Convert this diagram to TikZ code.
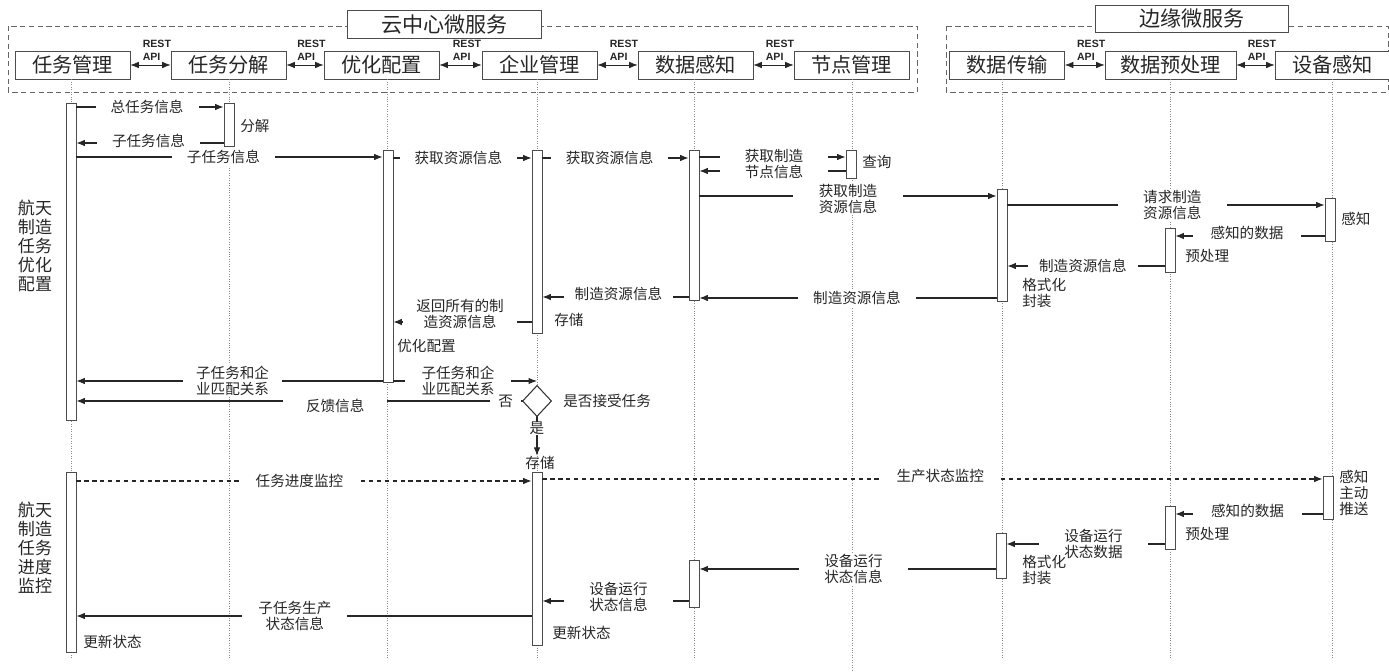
\documentclass[tikz,border=0pt]{standalone}
\usepackage{fontspec}
\setmainfont{Noto Sans CJK SC}
\newfontfamily\apifont{Liberation Sans}
\usetikzlibrary{arrows.meta, shapes.geometric, positioning}

\newcommand{\msgsize}{\fontsize{8.3}{8.9}\selectfont}

\begin{document}
\begin{tikzpicture}[
        x = 0.02cm, y = -0.02cm,
        >= {Latex[length = 1.7mm, width = 1.3mm]},
        every node/.style = {text = black!85},
        service/.style = {draw = black!70, fill = white, minimum width = 2.3cm, minimum height = 0.56cm, inner sep = 0pt, font = \fontsize{11.5}{12}\selectfont},
        caption/.style = {draw = black!70, fill = white, minimum width = 3.87cm, minimum height = 0.55cm, inner sep = 0pt, font = \fontsize{12}{13}\selectfont},
        group/.style = {draw = black!60, dash pattern = on 3pt off 2pt},
        api/.style = {font = \apifont\bfseries\fontsize{6}{7.4}\selectfont, align = left, inner sep = 0pt, anchor = south west, xshift = -0.16cm, yshift = 0.08cm},
        lifeline/.style = {draw = black!45, densely dotted, line width = 0.4pt},
        bar/.style = {draw = black!70, fill = white, minimum width = 0.2cm, inner sep = 0pt, anchor = north},
        msg/.style = {draw = black!85, line width = 0.6pt, ->},
        ask/.style = {msg, dash pattern = on 2.5pt off 2pt},
        lbl/.style = {fill = white, inner xsep = 0.3cm, inner ysep = 1pt, font = \msgsize, align = center},
        note/.style = {font = \msgsize, align = left, anchor = west, inner sep = 0pt},
        phase/.style = {font = \fontsize{9.7}{10.8}\selectfont, align = center}
    ]
    \useasboundingbox (0,0) rectangle (1389,672);

    % micro service groups
    \draw[group] (8,26) rectangle (917,92);
    \draw[group] (946,26) rectangle (1388,92);
    \node[caption] (cloudtitle) at (444.5,24.5) {云中心微服务};
    \node[caption] (edgetitle) at (1192,19) {边缘微服务};

    \node[service] (s1) at (72.5,65) {任务管理};
    \node[service] (s2) at (228.5,65) {任务分解};
    \node[service] (s3) at (381.5,65) {优化配置};
    \node[service] (s4) at (539.5,65) {企业管理};
    \node[service] (s5) at (695.5,65) {数据感知};
    \node[service] (s6) at (851.5,65) {节点管理};
    \node[service] (s7) at (1007,65) {数据传输};
    \node[service, minimum width = 2.62cm] (s8) at (1170.5,65) {数据预处理};
    \node[service] (s9) at (1332.5,65) {设备感知};

    \foreach \l/\r in {s1/s2, s2/s3, s3/s4, s4/s5, s5/s6, s7/s8, s8/s9}
        \draw[<->, draw = black!85] (\l) -- node[api] (api-\l) {REST\\API} (\r);

    \foreach \s/\x in {s1/71, s2/229, s3/387, s4/537, s5/694, s7/1002, s8/1170, s9/1332}
        \draw[lifeline] (\s.south -| \x,0) -- (\x,658);
    \draw[lifeline] (s6.south -| 852,0) -- (852,672);

    % optimisation phase
    \node[bar, minimum height = 6.34cm] (a1) at (71,103) {};
    \node[bar, minimum height = 0.86cm] (a2) at (229,103) {};
    \node[bar, minimum height = 4.64cm] (a3) at (388,150) {};
    \node[bar, minimum height = 3.66cm] (a4) at (537,150) {};
    \node[bar, minimum height = 3.0cm] (a5) at (694,150) {};
    \node[bar, minimum height = 0.56cm] (a6) at (851,150) {};
    \node[bar, minimum height = 2.24cm] (a7) at (1002,189) {};
    \node[bar, minimum height = 0.88cm] (a8) at (1170,228) {};
    \node[bar, minimum height = 0.86cm] (a9) at (1330,198) {};

    \draw[msg] (a1.east |- 0,107) -- node[lbl, pos = 0.48] (m1) {总任务信息} (a2.west |- 0,107);
    \node[note] (n1) at (240,126) {分解};
    \draw[msg] (a2.west |- 0,143) -- node[lbl, pos = 0.51, yshift = 0.04cm] (m2) {子任务信息} (a1.east |- 0,143);
    \draw[msg] (a1.east |- 0,157) -- node[lbl, pos = 0.48] (m3) {子任务信息} (a3.west |- 0,157);
    \draw[msg] (a3.east |- 0,158) -- node[lbl, pos = 0.47] (m4) {获取资源信息} (a4.west |- 0,158);
    \draw[msg] (a4.east |- 0,158) -- node[lbl, pos = 0.46] (m5) {获取资源信息} (a5.west |- 0,158);
    \draw[msg] (a5.east |- 0,157) -- (a6.west |- 0,157);
    \draw[msg] (a6.west |- 0,171) -- (a5.east |- 0,171);
    \node[lbl, inner xsep = 0.5cm] (m6) at (774,164) {获取制造\\节点信息};
    \node[note] (n2) at (862,162) {查询};
    \draw[msg] (a5.east |- 0,196) -- node[lbl, pos = 0.5, inner xsep = 0.52cm, yshift = -0.06cm] (m7) {获取制造\\资源信息} (a7.west |- 0,196);
    \draw[msg] (a7.east |- 0,205) -- node[lbl, pos = 0.52, inner xsep = 0.5cm] (m8) {请求制造\\资源信息} (a9.west |- 0,205);
    \node[note] (n3) at (1341,219) {感知};
    \draw[msg] (a9.west |- 0,236) -- node[lbl, pos = 0.52, inner xsep = 0.36cm, yshift = 0.06cm] (m9) {感知的数据} (a8.east |- 0,236);
    \node[note] (n4) at (1185,256) {预处理};
    \draw[msg] (a8.west |- 0,266) -- node[lbl, pos = 0.52, inner xsep = 0.22cm] (m10) {制造资源信息} (a7.east |- 0,266);
    \node[note] (n5) at (1022,293) {格式化\\封装};
    \draw[msg] (a7.west |- 0,298) -- node[lbl, pos = 0.47] (m11) {制造资源信息} (a5.east |- 0,298);
    \draw[msg] (a5.west |- 0,297) -- node[lbl, pos = 0.48, inner xsep = 0.22cm, yshift = 0.06cm] (m12) {制造资源信息} (a4.east |- 0,297);
    \draw[msg] (a4.west |- 0,322) -- (a3.east |- 0,322);
    \node[lbl, inner xsep = 0.26cm] (m13) at (460,314) {返回所有的制\\造资源信息};
    \node[note] (n6) at (554,320) {存储};
    \node[note] (n7) at (397,346) {优化配置};
    \draw[msg] (a3.west |- 0,381) -- node[lbl, pos = 0.49, inner xsep = 0.26cm] (m14) {子任务和企\\业匹配关系} (a1.east |- 0,381);

    \node[diamond, minimum width = 0.56cm, minimum height = 0.6cm, inner sep = 0pt] (dec) at (537,401) {};
    \draw[msg] (a3.east |- 0,381) -- node[lbl, pos = 0.45, inner xsep = 0.34cm] (m15) {子任务和企\\业匹配关系} (dec.north |- 0,381);
    \draw[msg] (dec.west) -- node[lbl, pos = 0.038, inner xsep = 0.16cm, inner ysep = 0pt] (no) {否}
        node[lbl, pos = 0.42, inner xsep = 0.46cm, yshift = -0.1cm] (m16) {反馈信息} (a1.east |- dec.west);
    \node[note] (n8) at (563,401) {是否接受任务};
    \node[note, anchor = center] (store) at (540,463) {存储};
    \draw[msg] (dec.south) -- node[lbl, pos = 0.3, inner xsep = 1pt, inner ysep = 0pt] (yes) {是} (dec.south |- store.north);
    \draw[draw = black!80, fill = white, line width = 0.6pt] (dec.north) -- (dec.east) -- (dec.south) -- (dec.west) -- cycle;

    \node[phase] (p1) at (35,246) {航天\\制造\\任务\\优化\\配置};

    % monitoring phase
    \node[bar, minimum height = 3.46cm] (a10) at (537,472) {};
    \node[bar, minimum height = 3.6cm] (a11) at (71,472) {};
    \node[bar, minimum height = 0.86cm] (a12) at (1328,476) {};
    \node[bar, minimum height = 0.86cm] (a13) at (1170,506) {};
    \node[bar, minimum height = 0.9cm] (a14) at (1001,533) {};
    \node[bar, minimum height = 0.94cm] (a15) at (694,560) {};

    \draw[ask] (a11.east |- 0,481) -- node[lbl, pos = 0.49] (m17) {任务进度监控} (a10.west |- 0,481);
    \draw[ask] (a10.east |- 0,479) -- node[lbl, pos = 0.51, yshift = 0.06cm] (m18) {生产状态监控} (a12.west |- 0,479);
    \node[note] (n9) at (1339,493) {感知\\主动\\推送};
    \draw[msg] (a12.west |- 0,514) -- node[lbl, pos = 0.51, inner xsep = 0.36cm, yshift = 0.06cm] (m19) {感知的数据} (a13.east |- 0,514);
    \node[note] (n10) at (1185,534) {预处理};
    \draw[msg] (a13.west |- 0,544) -- node[lbl, pos = 0.45, inner xsep = 0.5cm] (m20) {设备运行\\状态数据} (a14.east |- 0,544);
    \node[note] (n11) at (1022,570) {格式化\\封装};
    \draw[msg] (a14.west |- 0,569) -- node[lbl, pos = 0.48, inner xsep = 0.5cm] (m21) {设备运行\\状态信息} (a15.east |- 0,569);
    \draw[msg] (a15.west |- 0,601) -- node[lbl, pos = 0.48, inner xsep = 0.5cm, yshift = 0.08cm] (m22) {设备运行\\状态信息} (a10.east |- 0,601);
    \draw[msg] (a10.west |- 0,616) -- node[lbl, pos = 0.52, inner xsep = 0.32cm] (m23) {子任务生产\\状态信息} (a11.east |- 0,616);
    \node[note] (n12) at (83,642) {更新状态};
    \node[note] (n13) at (552,633) {更新状态};

    \node[phase] (p2) at (35,548) {航天\\制造\\任务\\进度\\监控};
\end{tikzpicture}
\end{document}
